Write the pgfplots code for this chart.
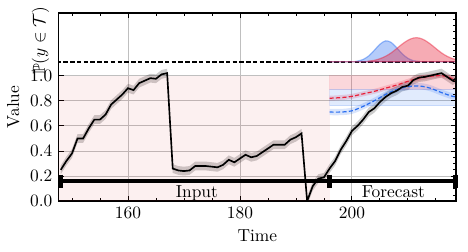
\documentclass[border=0pt]{standalone}
\usepackage{pgfplots}
\usepackage{pgfplotstable}
\pgfplotsset{compat=1.18}
\usepgfplotslibrary{fillbetween}
\usetikzlibrary{calc}
\usepackage{amssymb}
\definecolor{fred}{RGB}{232,33,58}
\definecolor{fblue}{RGB}{42,110,240}
\definecolor{inpink}{RGB}{214,39,40}

\pgfplotstableread{
t y
148 0.25
149 0.32
150 0.38
151 0.50
152 0.50
153 0.58
154 0.65
155 0.65
156 0.69
157 0.77
158 0.81
159 0.85
160 0.90
161 0.885
162 0.94
163 0.96
164 0.98
165 0.975
166 1.01
167 1.02
168 0.26
169 0.245
170 0.24
171 0.245
172 0.28
173 0.28
174 0.28
175 0.275
176 0.27
177 0.29
178 0.33
179 0.31
180 0.34
181 0.37
182 0.35
183 0.36
184 0.39
185 0.42
186 0.45
187 0.45
188 0.45
189 0.49
190 0.51
191 0.54
192 0.0
193 0.12
194 0.18
195 0.19
196 0.26
197 0.32
198 0.41
199 0.48
200 0.56
201 0.60
202 0.65
203 0.71
204 0.74
205 0.79
206 0.83
207 0.86
208 0.88
209 0.91
210 0.92
211 0.965
212 0.985
213 0.99
214 1.0
215 1.01
216 1.02
217 0.99
218 0.96
219 0.99
}\series

\pgfplotstableread{
t y
196 0.82
198 0.825
200 0.835
202 0.855
204 0.875
206 0.90
208 0.925
210 0.955
212 0.98
214 0.995
216 1.0
217.5 0.985
219 0.945
}\redm

\pgfplotstableread{
t y
196 0.71
198 0.71
200 0.72
202 0.755
204 0.80
206 0.85
208 0.89
210 0.912
212 0.918
214 0.90
216 0.865
218 0.835
219 0.83
}\bluem

\pgfplotstableread{
t y
196 1.11
200 1.11
201 1.116
202 1.129
203 1.157
204 1.202
205 1.250
206 1.277
207 1.265
208 1.222
209 1.173
210 1.138
211 1.119
212 1.113
213 1.11
219 1.11
}\blueg

\pgfplotstableread{
t y
196 1.11
202 1.11
203 1.116
204 1.122
205 1.135
206 1.154
207 1.181
208 1.216
209 1.252
210 1.282
211 1.300
212 1.300
213 1.282
214 1.252
215 1.216
216 1.181
217 1.154
218 1.135
219 1.122
219 1.11
}\redg

\begin{document}
\begin{tikzpicture}
\begin{axis}[
  scale only axis, width=229pt, height=108.5pt,
  xmin=147.6, xmax=218.6, ymin=0, ymax=1.5,
  xtick={160,180,200}, minor xtick={150,155,...,215},
  ytick={0,0.2,0.4,0.6,0.8,1.0},
  yticklabel style={/pgf/number format/.cd, fixed, fixed zerofill, precision=1},
  ytick pos=left, xtick pos=both,
  tick align=inside,
  major tick length=3pt, minor tick length=1.6pt,
  grid=major, major grid style={black!25, line width=0.5pt},
  axis line style={line width=0.9pt},
  every tick/.style={black, line width=0.5pt},
]
\coordinate (SW) at (rel axis cs:0,0);
\coordinate (NE) at (rel axis cs:1,1);
\coordinate (PL) at (rel axis cs:0,0.853);
% input background
\addplot[draw=none, fill=inpink, fill opacity=0.07] coordinates {(140,0)(196,0)(196,1.0)(140,1.0)} -- cycle;
% forecast target regions
\addplot[draw=fred, draw opacity=0.15, fill=fred, fill opacity=0.18] coordinates {(196,0.89)(225,0.89)(225,1.0)(196,1.0)} -- cycle;
\addplot[draw=fblue, draw opacity=0.15, fill=fblue, fill opacity=0.14] coordinates {(196,0.76)(225,0.76)(225,0.89)(196,0.89)} -- cycle;
% dashed separator
\addplot[black, line width=1.1pt, dash pattern=on 2.6pt off 1.3pt] coordinates {(140,1.11)(225,1.11)};
% densities
\addplot[smooth, fill=fblue, fill opacity=0.35, draw=fblue, draw opacity=0.45, line width=0.7pt] table {\blueg} -- cycle;
\addplot[smooth, fill=fred, fill opacity=0.38, draw=fred, draw opacity=0.45, line width=0.7pt] table {\redg} -- cycle;
% forecast bands
\addplot[name path=ru, draw=none, smooth] table[y expr=\thisrow{y}+0.02] {\redm};
\addplot[name path=rl, draw=none, smooth] table[y expr=\thisrow{y}-0.02] {\redm};
\addplot[fred, fill opacity=0.18, draw=none] fill between[of=ru and rl];
\addplot[name path=bu, draw=none, smooth] table[y expr=\thisrow{y}+0.025] {\bluem};
\addplot[name path=bl, draw=none, smooth] table[y expr=\thisrow{y}-0.025] {\bluem};
\addplot[fblue, fill opacity=0.18, draw=none] fill between[of=bu and bl];
% series band
\addplot[name path=su, draw=none] table[y expr=\thisrow{y}+0.035] {\series};
\addplot[name path=sl, draw=none] table[y expr=\thisrow{y}-0.035] {\series};
\addplot[black, fill opacity=0.2, draw=none] fill between[of=su and sl];
% forecast means
\addplot[fred, smooth, line width=0.7pt, dash pattern=on 2.4pt off 1.3pt] table {\redm};
\addplot[fblue, smooth, line width=0.7pt, dash pattern=on 2.4pt off 1.3pt] table {\bluem};
% series
\addplot[black, line width=0.95pt] table {\series};
% input/forecast bar
\addplot[black, line width=2.3pt, mark=|, mark size=3.7pt, mark options={line width=2.9pt, solid}] coordinates {(148,0.16)(196,0.16)(218.5,0.16)};
\node[anchor=base] at (axis cs:172.3,0.03) {Input};
\node[anchor=base] at (axis cs:207.4,0.03) {Forecast};
\end{axis}
\begin{axis}[
  scale only axis, width=229pt, height=108.5pt,
  xmin=147.6, xmax=218.6, ymin=0, ymax=1.5,
  axis x line=none, axis y line*=right,
  ytick={0,0.2,0.4,0.6,0.8,1.0}, yticklabels={},
  minor ytick={0,0.05,...,1.5},
  tick align=inside,
  major tick length=3pt, minor tick length=1.6pt,
  axis line style={line width=0.9pt},
  every tick/.style={black, line width=0.5pt},
]
\end{axis}
\node[rotate=90] at ([xshift=-10.3pt]PL) {$\mathbb{P}(y\in\mathcal{T})$};
\node[rotate=90] at ($(SW)!0.5!(SW|-NE)+(-26pt,0)$) {Value};
\node at ($(SW)!0.5!(SW-|NE)+(0,-20pt)$) {Time};
\path ([shift={(-33.7pt,-29.1pt)}]SW) rectangle ([shift={(4.6pt,7.4pt)}]NE);
\end{tikzpicture}
\end{document}
